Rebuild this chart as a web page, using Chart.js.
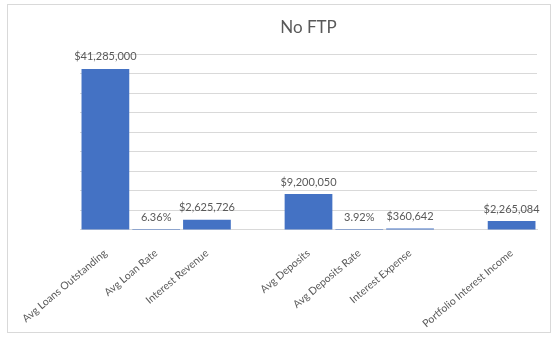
<!DOCTYPE html>
<html>
<head>
<meta charset="utf-8">
<script src="https://cdn.jsdelivr.net/npm/chart.js@4/dist/chart.umd.min.js"></script>
<style>
  html, body { margin: 0; padding: 0; background: #fff; }
</style>
</head>
<body>
<canvas id="chartNoFtp" width="557" height="343"></canvas>
<script>
// categorias vacias ('') dejan el hueco entre grupos
const categorias = ['Avg Loans Outstanding', 'Avg Loan Rate', 'Interest Revenue', '', 'Avg Deposits', 'Avg Deposits Rate', 'Interest Expense', '', 'Portfolio Interest Income']
const valores = [41285000, 0.0636, 2625726, null, 9200050, 0.0392, 360642, null, 2265084]
const formatos = ['usd', 'pct', 'usd', null, 'usd', 'pct', 'usd', null, 'usd']
const ejeMax = 45000000
const ejePaso = 5000000

const gris = '#595959'
const fuente = 'Lato'

function formatoValor(valor, tipo) {
  if (tipo === 'pct') return (valor * 100).toFixed(2) + '%'
  return '$' + valor.toLocaleString('en-US')
}

// marco gris alrededor del grafico
const marco = {
  id: 'marco',
  beforeDraw(chart) {
    const ctx = chart.ctx
    ctx.save()
    ctx.fillStyle = '#fff'
    ctx.fillRect(0, 0, chart.width, chart.height)
    ctx.strokeStyle = '#d9d9d9'
    ctx.lineWidth = 1
    ctx.strokeRect(7.5, 4.5, 543, 328)
    ctx.restore()
  }
}

// etiquetas de valor encima de cada barra
const etiquetasValor = {
  id: 'etiquetasValor',
  afterDatasetsDraw(chart) {
    const ctx = chart.ctx
    const meta = chart.getDatasetMeta(0)
    ctx.save()
    ctx.font = '11px ' + fuente
    ctx.fillStyle = gris
    ctx.textAlign = 'center'
    ctx.textBaseline = 'middle'
    meta.data.forEach((barra, i) => {
      if (valores[i] == null) return
      ctx.fillText(formatoValor(valores[i], formatos[i]), barra.x, barra.y - 12)
    })
    ctx.restore()
  }
}

const ctx = document.getElementById('chartNoFtp').getContext('2d')
new Chart(ctx, {
  type: 'bar',
  data: {
    labels: categorias,
    datasets: [{
      label: 'No FTP',
      data: valores,
      backgroundColor: '#4472c4',
      categoryPercentage: 0.94,
      barPercentage: 1
    }]
  },
  options: {
    responsive: false,
    animation: false,
    layout: {
      padding: { left: 80, right: 20, top: 0, bottom: 4 }
    },
    plugins: {
      legend: { display: false },
      tooltip: { enabled: false },
      title: {
        display: true,
        text: 'No FTP',
        color: gris,
        font: { family: fuente, size: 17, weight: 'normal' },
        padding: { top: 17, bottom: 17 }
      }
    },
    scales: {
      x: {
        grid: { display: false },
        border: { color: '#d9d9d9' },
        ticks: {
          autoSkip: false,
          maxRotation: 40,
          minRotation: 40,
          padding: 9,
          color: gris,
          font: { family: fuente, size: 10.5 }
        }
      },
      y: {
        min: 0,
        max: ejeMax,
        grid: { color: '#d9d9d9', drawTicks: false },
        border: { display: false },
        ticks: { display: false, stepSize: ejePaso }
      }
    }
  },
  plugins: [marco, etiquetasValor]
})
</script>
</body>
</html>
